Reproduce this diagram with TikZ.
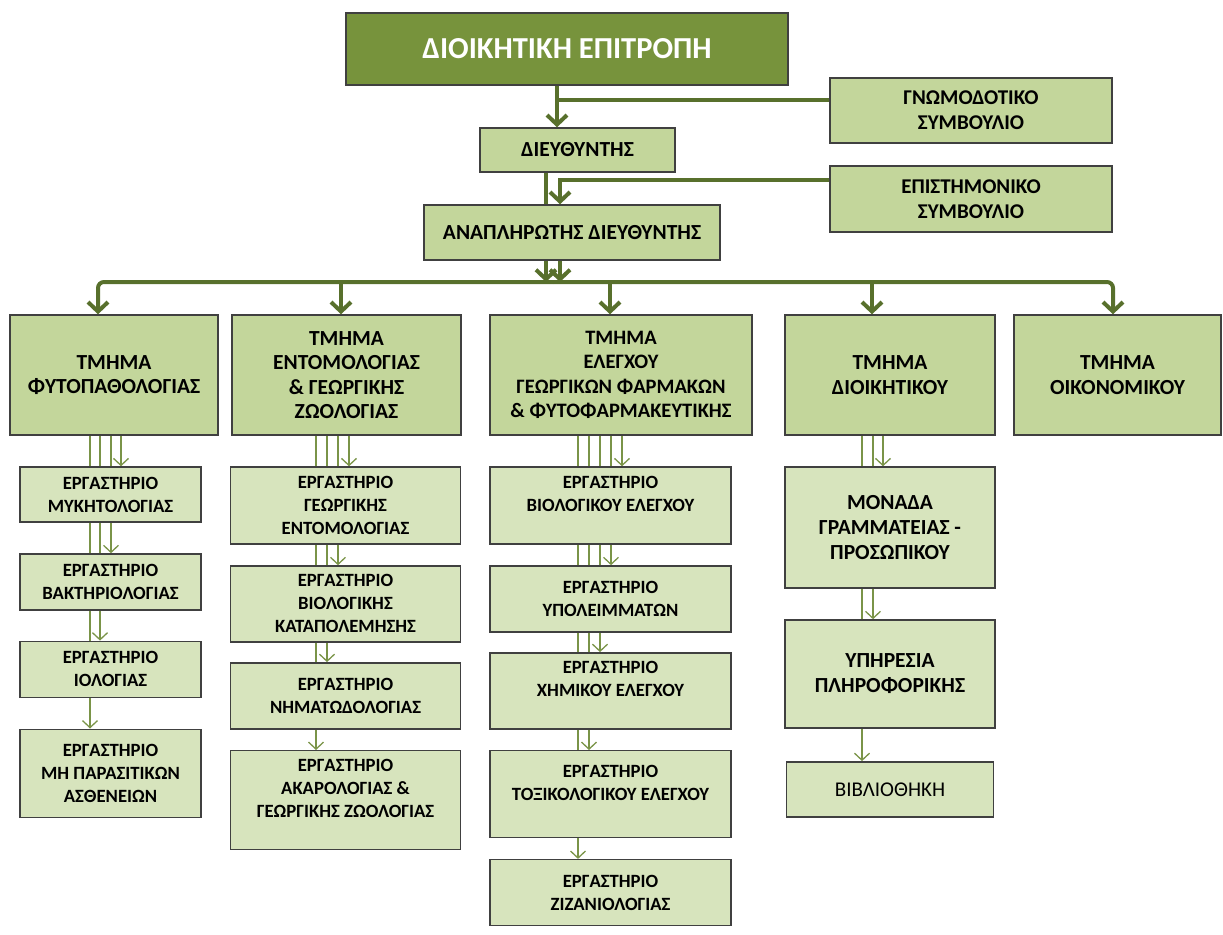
\documentclass[tikz,border=0pt]{standalone}
\usepackage{fontspec}
\setmainfont{Carlito}
\usetikzlibrary{%
  arrows.meta,% V tips
  positioning,% wg. " of "
  backgrounds% thin links behind the boxes
}
\definecolor{boardgreen}{RGB}{119,147,60}
\definecolor{officegreen}{RGB}{195,214,155}
\definecolor{labgreen}{RGB}{215,228,189}
\definecolor{linkgreen}{RGB}{88,112,44}
\definecolor{sublinkgreen}{RGB}{122,148,72}
\definecolor{boxline}{RGB}{64,64,64}

\begin{document}
\begin{tikzpicture}[x=1pt,y=-1pt,box/.style={
	rectangle,
	draw=boxline,
	line width=1.4pt,
	align=center,
	inner sep=2pt
	},head/.style={
	box,fill=boardgreen,text=white,
	minimum width=442pt,minimum height=72pt,
	font=\fontsize{30.5}{36}\selectfont\bfseries
	},office/.style={
	box,fill=officegreen,
	font=\fontsize{21.5}{24.5}\selectfont\bfseries
	},dept/.style={
	office,minimum height=120pt
	},lab/.style={
	box,fill=labgreen,
	font=\fontsize{18.7}{23}\selectfont\bfseries
	},lab1/.style={lab,minimum width=181pt
	},lab2/.style={lab,minimum width=230pt
	},lab3/.style={lab,minimum width=241pt
	},lab4/.style={lab,minimum width=210pt,
	font=\fontsize{21.5}{25}\selectfont\bfseries
	},link/.style={
	draw=linkgreen,line width=4pt
	},linkarrow/.style={
	link,-{Straight Barb[length=9.5pt,width=20pt]}
	},sublink/.style={
	draw=sublinkgreen,line width=1.3pt,
	-{Straight Barb[length=7pt,width=15pt]}
	}
]
\useasboundingbox (0,0) rectangle (1223,934);

% Top
\node (board) [head] at (567,49) {ΔΙΟΙΚΗΤΙΚΗ ΕΠΙΤΡΟΠΗ};
\node (advisory) [office,minimum width=282pt,minimum height=65pt,font=\fontsize{21}{25}\selectfont\bfseries] at (971,110.5) {ΓΝΩΜΟΔΟΤΙΚΟ\\ΣΥΜΒΟΥΛΙΟ};
\node (director) [office,minimum width=195pt,minimum height=44pt] at (577.5,150) {ΔΙΕΥΘΥΝΤΗΣ};
\node (science) [office,minimum width=282pt,minimum height=66pt,font=\fontsize{21}{25}\selectfont\bfseries] at (971,199) {ΕΠΙΣΤΗΜΟΝΙΚΟ\\ΣΥΜΒΟΥΛΙΟ};
\node (deputy) [office,minimum width=296pt,minimum height=55pt] at (572,232.5) {ΑΝΑΠΛΗΡΩΤΗΣ ΔΙΕΥΘΥΝΤΗΣ};

% Departments
\node (dept1) [dept,minimum width=208pt] at (114,375) {ΤΜΗΜΑ\\ΦΥΤΟΠΑΘΟΛΟΓΙΑΣ};
\node (dept2) [dept,minimum width=229pt] at (346.5,375) {ΤΜΗΜΑ\\ΕΝΤΟΜΟΛΟΓΙΑΣ\\\& ΓΕΩΡΓΙΚΗΣ\\ΖΩΟΛΟΓΙΑΣ};
\node (dept3) [dept,minimum width=262pt,font=\fontsize{20.5}{24.5}\selectfont\bfseries] at (621,375) {ΤΜΗΜΑ\\ΕΛΕΓΧΟΥ\\ΓΕΩΡΓΙΚΩΝ ΦΑΡΜΑΚΩΝ\\\& ΦΥΤΟΦΑΡΜΑΚΕΥΤΙΚΗΣ};
\node (dept4) [dept,minimum width=210pt] at (890,375) {ΤΜΗΜΑ\\ΔΙΟΙΚΗΤΙΚΟΥ};
\node (dept5) [dept,minimum width=207pt] at (1117.5,375) {ΤΜΗΜΑ\\ΟΙΚΟΝΟΜΙΚΟΥ};

% Labs, first column
\node (lab11) [lab1,minimum height=55pt] at (110.5,494.5) {ΕΡΓΑΣΤΗΡΙΟ\\ΜΥΚΗΤΟΛΟΓΙΑΣ};
\node (lab12) [lab1,minimum height=56pt,below=30.5pt of lab11] {ΕΡΓΑΣΤΗΡΙΟ\\ΒΑΚΤΗΡΙΟΛΟΓΙΑΣ};
\node (lab13) [lab1,minimum height=56pt,below=30pt of lab12] {ΕΡΓΑΣΤΗΡΙΟ\\ΙΟΛΟΓΙΑΣ};
\node (lab14) [lab1,minimum height=88pt,below=30.5pt of lab13] {ΕΡΓΑΣΤΗΡΙΟ\\ΜΗ ΠΑΡΑΣΙΤΙΚΩΝ\\ΑΣΘΕΝΕΙΩΝ};
% second column
\node (lab21) [lab2,minimum height=77pt] at (345.5,505.5) {ΕΡΓΑΣΤΗΡΙΟ\\ΓΕΩΡΓΙΚΗΣ\\ΕΝΤΟΜΟΛΟΓΙΑΣ};
\node (lab22) [lab2,minimum height=76pt,below=20.5pt of lab21] {ΕΡΓΑΣΤΗΡΙΟ\\ΒΙΟΛΟΓΙΚΗΣ\\ΚΑΤΑΠΟΛΕΜΗΣΗΣ};
\node (lab23) [lab2,minimum height=66pt,below=19.5pt of lab22] {ΕΡΓΑΣΤΗΡΙΟ\\ΝΗΜΑΤΩΔΟΛΟΓΙΑΣ};
\node (lab24) [lab2,minimum height=99pt,below=20.5pt of lab23] {ΕΡΓΑΣΤΗΡΙΟ\\ΑΚΑΡΟΛΟΓΙΑΣ \&\\ΓΕΩΡΓΙΚΗΣ ΖΩΟΛΟΓΙΑΣ\\\mbox{}};
% third column
\node (lab31) [lab3,minimum height=77pt] at (610.5,505.5) {ΕΡΓΑΣΤΗΡΙΟ\\ΒΙΟΛΟΓΙΚΟΥ ΕΛΕΓΧΟΥ\\\mbox{}};
\node (lab32) [lab3,minimum height=66pt,below=20.5pt of lab31] {ΕΡΓΑΣΤΗΡΙΟ\\ΥΠΟΛΕΙΜΜΑΤΩΝ};
\node (lab33) [lab3,minimum height=76pt,below=19.5pt of lab32] {ΕΡΓΑΣΤΗΡΙΟ\\ΧΗΜΙΚΟΥ ΕΛΕΓΧΟΥ\\\mbox{}};
\node (lab34) [lab3,minimum height=87pt,below=20.5pt of lab33] {ΕΡΓΑΣΤΗΡΙΟ\\ΤΟΞΙΚΟΛΟΓΙΚΟΥ ΕΛΕΓΧΟΥ\\\mbox{}};
\node (lab35) [lab3,minimum height=66pt,below=20.5pt of lab34] {ΕΡΓΑΣΤΗΡΙΟ\\ΖΙΖΑΝΙΟΛΟΓΙΑΣ};
% fourth column
\node (lab41) [lab4,minimum height=121pt] at (890,527.5) {ΜΟΝΑΔΑ\\ΓΡΑΜΜΑΤΕΙΑΣ -\\ΠΡΟΣΩΠΙΚΟΥ};
\node (lab42) [lab4,minimum height=108pt,below=30.5pt of lab41] {ΥΠΗΡΕΣΙΑ\\ΠΛΗΡΟΦΟΡΙΚΗΣ};
\node (lab43) [lab4,minimum width=207pt,minimum height=55pt,below=32.5pt of lab42,
	font=\fontsize{21}{25}\selectfont] {ΒΙΒΛΙΟΘΗΚΗ};

% Links at the top
\coordinate (j1) at (557,100);
\coordinate (j2) at (560,180);
\coordinate (j3) at (546,180);
\coordinate (bus) at (553,282);
\draw[linkarrow] (board.south -| j1) -- (j1 |- director.north);
\draw[link] (j1) -- (j1 -| advisory.west);
\draw[link] (director.south -| j3) -- (j3 |- deputy.north);
\draw[linkarrow] (science.west |- j2) -- (j2) -- (j2 |- deputy.north);
\draw[linkarrow] (deputy.south -| j3) -- (j3 |- bus);
\draw[linkarrow] (deputy.south -| j2) -- (j2 |- bus);

% Bus to the departments
\coordinate (busL) at (98,282);
\coordinate (busR) at (1113,282);
\draw[linkarrow,rounded corners=6pt] (bus) -- (busL) -- (busL |- dept1.north);
\draw[linkarrow,rounded corners=6pt] (bus) -- (busR) -- (busR |- dept5.north);
\foreach \d/\x in {dept2/341,dept3/610,dept4/872}{
	\path (\x,282) coordinate (b);
	\draw[linkarrow] (b) -- (b |- \d.north);
}

% Thin links, behind the lab boxes
\begin{pgfonlayer}{background}
\foreach \d/\l/\dx in {dept1/lab11/7,dept1/lab12/-3,dept1/lab13/-14,dept1/lab14/-24,
	dept2/lab21/2.5,dept2/lab22/-8.5,dept2/lab23/-19.5,dept2/lab24/-30.5,
	dept3/lab31/1,dept3/lab32/-10,dept3/lab33/-21,dept3/lab34/-32,dept3/lab35/-43,
	dept4/lab41/-7,dept4/lab42/-17,dept4/lab43/-28}{
	\path ([xshift=\dx]\d.south) coordinate (s);
	\draw[sublink] (s) -- (s |- \l.north);
}
\end{pgfonlayer}

\end{tikzpicture}
\end{document}
